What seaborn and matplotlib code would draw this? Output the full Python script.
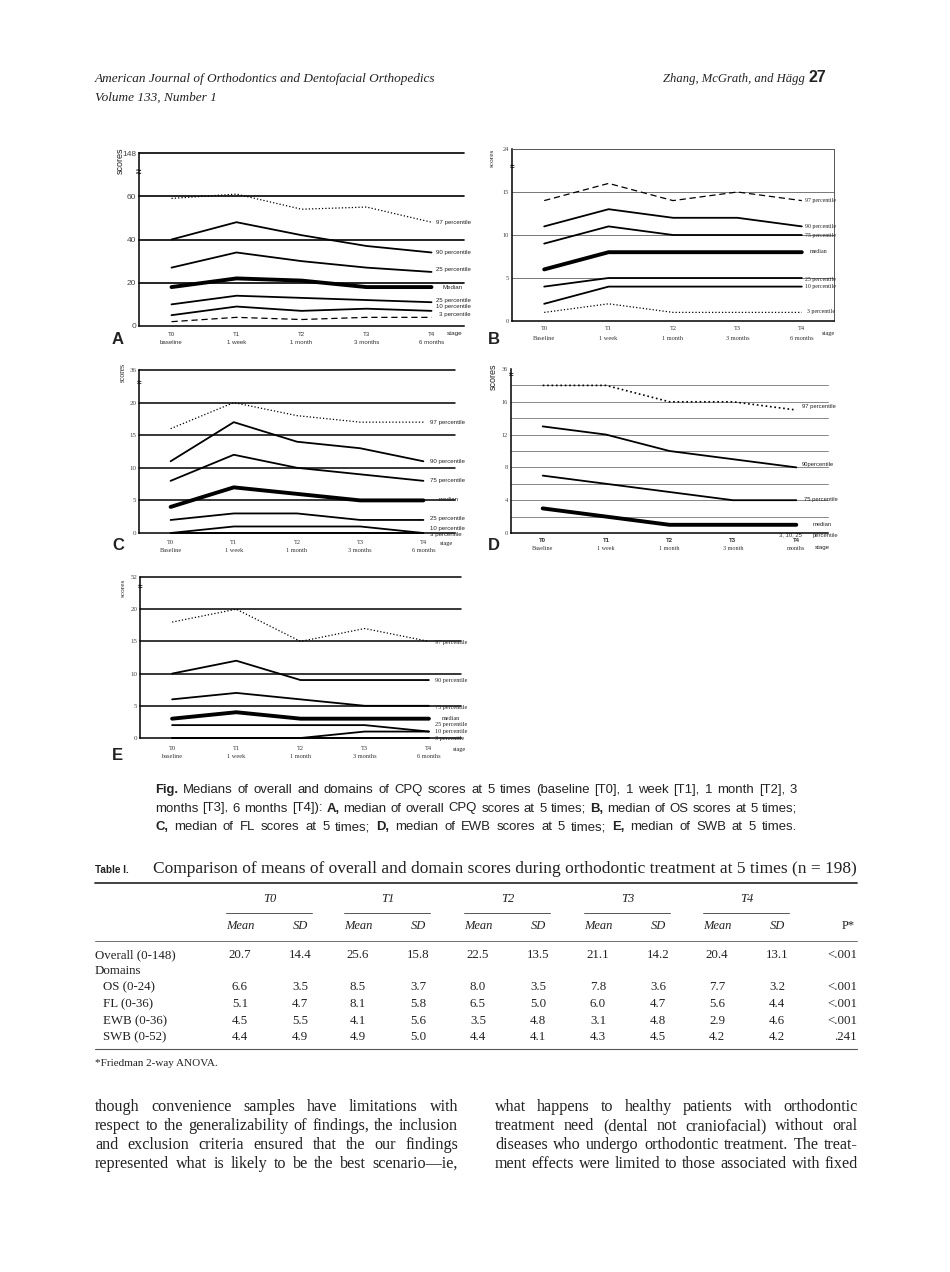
import matplotlib
matplotlib.use("Agg")
import matplotlib.pyplot as plt
import matplotlib.transforms as mtransforms
import seaborn as sns

sns.set_style("white")
SANS = ["Liberation Sans", "DejaVu Sans"]
SERIF = ["Liberation Serif", "DejaVu Serif"]
plt.rcParams["font.family"] = SANS

W, H = 950, 1272

# stages on the x axis
stages = [0, 1, 2, 3, 4]
stage_codes = ["T0", "T1", "T2", "T3", "T4"]
low_names = ["baseline", "1 week", "1 month", "3 months", "6 months"]
cap_names = ["Baseline", "1 week", "1 month", "3 months", "6 months"]
d_stage_names = ["Baseline", "1 week", "1 month", "3 month", "months"]

# A: overall CPQ (0-148)
a_p97 = [59, 61, 54, 55, 48]
a_p90 = [40, 48, 42, 37, 34]
a_p75 = [27, 34, 30, 27, 25]
a_p50 = [18, 22, 21, 18, 18]
a_p25 = [10, 14, 13, 12, 11]
a_p10 = [5, 9, 7, 8, 7]
a_p03 = [2, 4, 3, 4, 4]
a_names = ["97 percentile", "90 percentile", "25 percentile", "Median",
           "25 percentile", "10 percentile", "3 percentile"]

# B: oral symptoms (0-24)
b_p97 = [14, 16, 14, 15, 14]
b_p90 = [11, 13, 12, 12, 11]
b_p75 = [9, 11, 10, 10, 10]
b_p50 = [6, 8, 8, 8, 8]
b_p25 = [4, 5, 5, 5, 5]
b_p10 = [2, 4, 4, 4, 4]
b_p03 = [1, 2, 1, 1, 1]
pct_names = ["97 percentile", "90 percentile", "75 percentile", "median",
             "25 percentile", "10 percentile", "3 percentile"]

# C: functional limitations (0-36)
c_p97 = [16, 20, 18, 17, 17]
c_p90 = [11, 17, 14, 13, 11]
c_p75 = [8, 12, 10, 9, 8]
c_p50 = [4, 7, 6, 5, 5]
c_p25 = [2, 3, 3, 2, 2]
c_p10 = [0, 1, 1, 1, 0]
c_p03 = [0, 0, 0, 0, 0]

# D: emotional well-being (0-36)
d_p97 = [18, 18, 16, 16, 15]
d_p90 = [13, 12, 10, 9, 8]
d_p75 = [7, 6, 5, 4, 4]
d_p50 = [3, 2, 1, 1, 1]
d_names = ["97 percentile", "90percentile", "75 percentile", "median"]

# E: social well-being (0-52)
e_p97 = [18, 20, 15, 17, 15]
e_p90 = [10, 12, 9, 9, 9]
e_p75 = [6, 7, 6, 5, 5]
e_p50 = [3, 4, 3, 3, 3]
e_p25 = [2, 2, 2, 2, 1]
e_p10 = [0, 0, 0, 1, 1]
e_p03 = [0, 0, 0, 0, 0]

# Table I
tbl_rows = ["Overall (0-148)", "Domains", "OS (0-24)", "FL (0-36)", "EWB (0-36)", "SWB (0-52)"]
mean_t0 = [20.7, None, 6.6, 5.1, 4.5, 4.4]
sd_t0 = [14.4, None, 3.5, 4.7, 5.5, 4.9]
mean_t1 = [25.6, None, 8.5, 8.1, 4.1, 4.9]
sd_t1 = [15.8, None, 3.7, 5.8, 5.6, 5.0]
mean_t2 = [22.5, None, 8.0, 6.5, 3.5, 4.4]
sd_t2 = [13.5, None, 3.5, 5.0, 4.8, 4.1]
mean_t3 = [21.1, None, 7.8, 6.0, 3.1, 4.3]
sd_t3 = [14.2, None, 3.6, 4.7, 4.8, 4.5]
mean_t4 = [20.4, None, 7.7, 5.6, 2.9, 4.2]
sd_t4 = [13.1, None, 3.2, 4.4, 4.6, 4.2]
p_vals = ["<.001", "", "<.001", "<.001", "<.001", ".241"]

fig = plt.figure(figsize=(W / 100, H / 100), dpi=100)
page = fig.add_axes([0, 0, 1, 1])
page.set_xlim(0, W)
page.set_ylim(H, 0)
page.axis("off")
renderer = fig.canvas.get_renderer()


def text_width(t):
    return t.get_window_extent(renderer=renderer).width


def fit_text(x0, x1, y, s, size, ha="left", **kw):
    t = page.text(x0 if ha == "left" else x1, y, s, fontsize=size, va="baseline", ha=ha, **kw)
    t.set_fontsize(size * (x1 - x0) / text_width(t))
    return t


def block_size(lines, width, size, family):
    # largest size at which every line fits with normal word spacing
    best = size * 10
    for line in lines:
        t = page.text(0, 0, line, fontsize=size, family=family)
        best = min(best, size * width / text_width(t))
        t.remove()
    return best * 0.985


def justify(x0, x1, y, line, size, family, bold=(), style="normal"):
    words = line.split()
    ts = [page.text(0, y, w, fontsize=size, family=family, fontstyle=style,
                    fontweight="bold" if w in bold else "normal", va="baseline",
                    color="#222")
          for w in words]
    ws = [text_width(t) for t in ts]
    gap = (x1 - x0 - sum(ws)) / (len(ws) - 1)
    x = x0
    for t, w in zip(ts, ws):
        t.set_x(x)
        x += w + gap


# ---------------- panels ----------------
SOLID, MED = ("-", 1.3), ("-", 2.8)
DOT, DASH = (":", 0.9), ((0, (5, 3)), 0.9)


def panel(rect, ytop, series, styles, grid_y, grid_color, grid_lw,
          yticks, ylabels, tick_font, tick_size, box=False):
    l, t, r, b = rect
    ax = fig.add_axes([l / W, 1 - b / H, (r - l) / W, (b - t) / H])
    ax.set_facecolor("none")
    for y in grid_y:
        ax.axhline(y, color=grid_color, lw=grid_lw, zorder=1, clip_on=False)
    for ys, (ls, lw) in zip(series, styles):
        sns.lineplot(x=stages, y=ys, ax=ax, color="black", linestyle=ls,
                     linewidth=lw, clip_on=False, zorder=3)
    ax.set_xlim(-0.5, 4.5)
    ax.set_ylim(0, ytop)
    ax.set_xlabel("")
    ax.set_ylabel("")
    ax.set_xticks([0.5, 1.5, 2.5, 3.5])
    ax.set_xticklabels([])
    ax.set_yticks(yticks)
    ax.set_yticklabels(ylabels, family=tick_font, fontsize=tick_size, color="#444")
    ax.tick_params(axis="x", direction="inout", length=3, width=0.8, color="#333")
    ax.tick_params(axis="y", length=0, pad=2)
    for side, sp in ax.spines.items():
        sp.set_color("black")
        sp.set_linewidth(1.1)
        if side in ("top", "right"):
            sp.set_visible(box)
            sp.set_color("#555")
            sp.set_linewidth(0.7)
    return ax


def pct_labels(ax, names, xs, ys, family, size):
    for name, x, y in zip(names, xs, ys):
        ax.text(x, y, name, fontsize=size, family=family, ha="left", va="center",
                color="#222", clip_on=False)


def stage_text(ax, names, y1, y2, fam1, fam2, size=4.6, w1="normal"):
    tr = mtransforms.blended_transform_factory(ax.transData, page.transData)
    for i, code, nm in zip(stages, stage_codes, names):
        page.text(i, y1, code, transform=tr, ha="center", va="center",
                  fontsize=size, family=fam1, fontweight=w1, color="#333")
        page.text(i, y2, nm, transform=tr, ha="center", va="center",
                  fontsize=size, family=fam2, color="#333")


def side_text(x, y, s, family, size, rot=0, weight="normal", ha="left"):
    page.text(x, y, s, family=family, fontsize=size, rotation=rot, fontweight=weight,
              ha=ha, va="center", color="#222")


# A
ax = panel((139, 153, 464, 326), 80,
           [a_p97, a_p90, a_p75, a_p50, a_p25, a_p10, a_p03],
           [DOT, SOLID, SOLID, MED, SOLID, SOLID, DASH],
           [20, 40, 60, 80], "black", 1.2,
           [0, 20, 40, 60, 80], ["0", "20", "40", "60", "148"], SANS, 6)
pct_labels(ax, a_names, [4.07, 4.07, 4.07, 4.17, 4.07, 4.07, 4.12],
           [47.9, 33.9, 26.2, 17.9, 12, 8.9, 5.4], SANS, 4.4)
stage_text(ax, low_names, 334, 342, SANS, SANS, 4.4)
side_text(447, 334, "stage", SANS, 4.6)
side_text(120, 161, "scores", SANS, 6.5, rot=90, ha="center")
side_text(138, 172, "≈", SANS, 7, weight="bold", ha="center")
side_text(112, 339, "A", SANS, 12, weight="bold")

# B
ax = panel((512, 149, 834, 321), 20,
           [b_p97, b_p90, b_p75, b_p50, b_p25, b_p10, b_p03],
           [DASH, SOLID, SOLID, MED, SOLID, SOLID, DOT],
           [5, 10, 15], "#777", 0.7,
           [0, 5, 10, 15, 20], ["0", "5", "10", "15", "24"], SERIF, 4.6, box=True)
pct_labels(ax, pct_names, [4.05, 4.05, 4.05, 4.13, 4.05, 4.05, 4.08],
           [14, 11, 9.9, 8.1, 4.8, 4.0, 1.1], SERIF, 4.2)
stage_text(ax, cap_names, 329, 339, SERIF, SERIF, 4.6)
side_text(822, 333, "stage", SERIF, 4.6)
side_text(492, 158, "scores", SERIF, 5.2, rot=90, ha="center")
side_text(512, 168, "≈", SANS, 6, weight="bold", ha="center")
side_text(488, 339, "B", SANS, 12, weight="bold")

# C
ax = panel((139, 370, 455, 533), 25,
           [c_p97, c_p90, c_p75, c_p50, c_p25, c_p10, c_p03],
           [DOT, SOLID, SOLID, MED, SOLID, SOLID, SOLID],
           [5, 10, 15, 20, 25], "black", 1.1,
           [0, 5, 10, 15, 20, 25], ["0", "5", "10", "15", "20", "36"], SERIF, 5)
pct_labels(ax, pct_names, [4.1, 4.1, 4.1, 4.24, 4.1, 4.1, 4.1],
           [17, 11, 8, 5.2, 2.3, 0.7, -0.25], SANS, 4.4)
stage_text(ax, cap_names, 543, 551, SERIF, SERIF, 4.6)
side_text(440, 543, "stage", SERIF, 4.6)
side_text(123, 372, "scores", SERIF, 5.5, rot=90, ha="center")
side_text(139, 384, "≈", SANS, 6, weight="bold", ha="center")
side_text(112, 546, "C", SANS, 12, weight="bold")

# D
ax = panel((511, 369, 828, 533), 20,
           [d_p97, d_p90, d_p75, d_p50],
           [(":", 1.2), SOLID, SOLID, MED],
           [2, 4, 6, 8, 10, 12, 14, 16, 18], "#888", 0.7,
           [0, 4, 8, 12, 16, 20], ["0", "4", "8", "12", "16", "36"], SERIF, 4.6)
ax.set_yticks([2, 6, 10, 14, 18], minor=True)
ax.tick_params(axis="y", which="minor", direction="out", length=2, width=0.8)
pct_labels(ax, d_names, [4.09, 4.09, 4.12, 4.25], [15.4, 8.4, 4.1, 1.06], SANS, 4.2)
tr = mtransforms.blended_transform_factory(ax.transData, page.transData)
page.text(3.9, 535, "3, 10, 25", transform=tr, ha="center", va="center",
          fontsize=4.2, family=SANS, color="#333")
page.text(4.25, 535, "percentile", transform=tr, ha="left", va="center",
          fontsize=4.2, family=SANS, color="#333")
stage_text(ax, d_stage_names, 541, 548, SANS, SERIF, 4.4, w1="bold")
side_text(815, 547, "stage", SANS, 4.4)
side_text(493, 377, "scores", SANS, 6.5, rot=90, ha="center")
side_text(511, 376, "≈", SANS, 6, weight="bold", ha="center")
side_text(488, 546, "D", SANS, 12, weight="bold")

# E
ax = panel((140, 577, 461, 738), 25,
           [e_p97, e_p90, e_p75, e_p50, e_p25, e_p10, e_p03],
           [DOT, SOLID, SOLID, MED, SOLID, SOLID, SOLID],
           [5, 10, 15, 20, 25], "black", 1.1,
           [0, 5, 10, 15, 20, 25], ["0", "5", "10", "15", "20", "52"], SERIF, 5)
pct_labels(ax, pct_names, [4.1, 4.1, 4.1, 4.2, 4.1, 4.1, 4.1],
           [14.8, 9, 4.8, 3.1, 2.1, 1.0, -0.1], SERIF, 4.4)
stage_text(ax, low_names, 748, 756, SERIF, SERIF, 4.6)
side_text(453, 750, "stage", SERIF, 4.6)
side_text(123, 588, "scores", SERIF, 5.2, rot=90, ha="center")
side_text(140, 588, "≈", SANS, 6, weight="bold", ha="center")
side_text(112, 755, "E", SANS, 12, weight="bold")

# ---------------- page header ----------------
fit_text(95, 437, 82, "American Journal of Orthodontics and Dentofacial Orthopedics",
         9.5, family=SERIF, fontstyle="italic", color="#222")
page.text(95, 101, "Volume 133, Number 1", fontsize=9.5, family=SERIF,
          fontstyle="italic", va="baseline", color="#222")
fit_text(663, 805, 82, "Zhang, McGrath, and Hägg", 10, ha="right", family=SERIF,
         fontstyle="italic", color="#222")
page.text(826, 82, "27", fontsize=11.5, family=SANS, fontweight="bold",
          ha="right", va="baseline", color="#222")

# ---------------- caption ----------------
cap_lines = [
    "Fig.  Medians of overall and domains of CPQ scores at 5 times (baseline [T0], 1 week [T1], 1 month [T2], 3",
    "months [T3], 6 months [T4]): A, median of overall CPQ scores at 5 times; B, median of OS scores at 5 times;",
    "C, median of FL scores at 5 times; D, median of EWB scores at 5 times; E, median of SWB at 5 times.",
]
cap_size = block_size(cap_lines, 797 - 155, 9, SANS)
for i, line in enumerate(cap_lines):
    justify(155, 797, 793 + i * 18.5, line, cap_size, SANS,
            bold={"Fig.", "A,", "B,", "C,", "D,", "E,"})

# ---------------- table ----------------
page.text(95, 873, "Table I.", fontsize=7.2, family=SANS, fontweight="bold",
          va="baseline", color="#222")
fit_text(153, 858, 873,
         "Comparison of means of overall and domain scores during orthodontic treatment at 5 times (n = 198)",
         11, family=SERIF, color="#222")
page.plot([95, 857], [883, 883], color="#333", lw=1.3)
page.plot([95, 857], [941, 941], color="#555", lw=0.6)
page.plot([95, 857], [1049, 1049], color="#555", lw=0.8)

mean_x = [240, 358, 478, 598, 717]
sd_x = [300, 418, 538, 658, 777]
means = [mean_t0, mean_t1, mean_t2, mean_t3, mean_t4]
sds = [sd_t0, sd_t1, sd_t2, sd_t3, sd_t4]
for code, mx, sx in zip(stage_codes, mean_x, sd_x):
    page.text((mx + sx) / 2, 902, code, fontsize=9, family=SERIF, fontstyle="italic",
              ha="center", va="baseline", color="#222")
    page.plot([mx - 14, sx + 12], [912.5, 912.5], color="#555", lw=0.7)
    page.text(mx, 929, "Mean", fontsize=9, family=SERIF, fontstyle="italic",
              ha="center", va="baseline", color="#222")
    page.text(sx, 929, "SD", fontsize=9, family=SERIF, fontstyle="italic",
              ha="center", va="baseline", color="#222")
page.text(848, 929, "P*", fontsize=9, family=SERIF, ha="center", va="baseline", color="#222")

row_y = [958, 974, 990, 1007, 1024, 1040]
for i, (name, y) in enumerate(zip(tbl_rows, row_y)):
    page.text(95 if i < 2 else 103, y, name, fontsize=9.3, family=SERIF,
              va="baseline", color="#222")
    for col_m, col_s, mx, sx in zip(means, sds, mean_x, sd_x):
        if col_m[i] is not None:
            page.text(mx, y, f"{col_m[i]:.1f}", fontsize=9.3, family=SERIF,
                      ha="center", va="baseline", color="#222")
            page.text(sx, y, f"{col_s[i]:.1f}", fontsize=9.3, family=SERIF,
                      ha="center", va="baseline", color="#222")
    page.text(857, y, p_vals[i], fontsize=9.3, family=SERIF, ha="right",
              va="baseline", color="#222")
page.text(95, 1066, "*Friedman 2-way ANOVA.", fontsize=8, family=SERIF,
          va="baseline", color="#222")

# ---------------- body text ----------------
left_col = [
    "though convenience samples have limitations with",
    "respect to the generalizability of findings, the inclusion",
    "and exclusion criteria ensured that the our findings",
    "represented what is likely to be the best scenario\u2014ie,",
]
right_col = [
    "what happens to healthy patients with orthodontic",
    "treatment need (dental not craniofacial) without oral",
    "diseases who undergo orthodontic treatment. The treat-",
    "ment effects were limited to those associated with fixed",
]
body_size = block_size(left_col + right_col, 363, 10.5, SERIF)
for i, (ll, rl) in enumerate(zip(left_col, right_col)):
    y = 1111 + i * 19
    justify(95, 458, y, ll, body_size, SERIF)
    justify(495, 858, y, rl, body_size, SERIF)

fig.savefig("out.png", dpi=100)
